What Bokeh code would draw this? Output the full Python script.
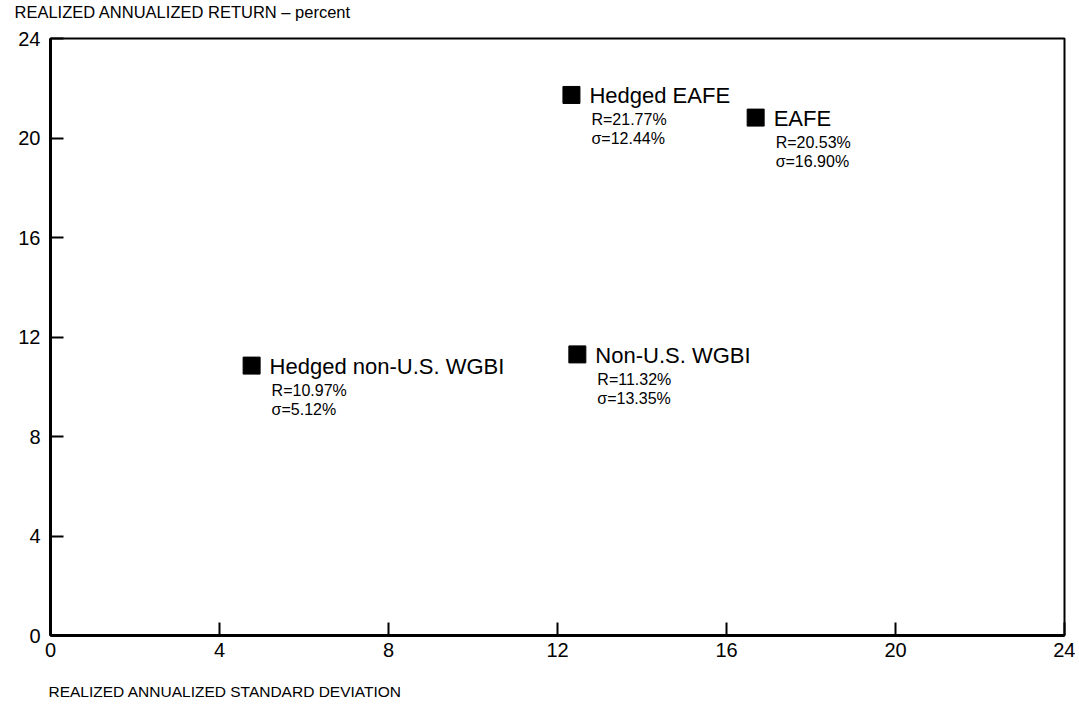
from bokeh.plotting import figure
from bokeh.models import ColumnDataSource, Range1d, FixedTicker, Title
from bokeh.core.properties import value
from bokeh.embed import file_html
from bokeh.resources import INLINE

# ---- data ----
names = ["Hedged EAFE", "EAFE", "Hedged non-U.S. WGBI", "Non-U.S. WGBI"]
std_dev = [12.33, 16.69, 4.76, 12.47]        # marker x positions as drawn
ret = [21.73, 20.82, 10.85, 11.30]           # marker y positions as drawn
r_text = ["R=21.77%", "R=20.53%", "R=10.97%", "R=11.32%"]
s_text = ["\u03c3=12.44%", "\u03c3=16.90%", "\u03c3=5.12%", "\u03c3=13.35%"]
ticks = [0, 4, 8, 12, 16, 20, 24]
y_title = "REALIZED ANNUALIZED RETURN \u2013 percent"
x_title = "REALIZED ANNUALIZED STANDARD DEVIATION"

FONT = "Liberation Sans"

src = ColumnDataSource(dict(x=std_dev, y=ret, name=names, r=r_text, s=s_text))

p = figure(width=1075, height=704, output_backend="svg", toolbar_location=None,
           x_range=Range1d(0, 24), y_range=Range1d(0, 24),
           min_border_left=50, min_border_top=38, min_border_right=11,
           min_border_bottom=69)
p.background_fill_color = "white"
p.border_fill_color = "white"
p.grid.visible = False
p.outline_line_color = "black"
p.outline_line_width = 2

for ax in (p.xaxis[0], p.yaxis[0]):
    ax.ticker = FixedTicker(ticks=ticks)
    ax.axis_line_width = 3
    ax.axis_line_color = "black"
    ax.major_tick_in = 13
    ax.major_tick_out = 0
    ax.major_tick_line_width = 2
    ax.major_tick_line_color = "black"
    ax.minor_tick_line_color = None
    ax.major_label_text_font = FONT
    ax.major_label_text_font_size = "20px"
    ax.major_label_text_color = "black"
p.yaxis.major_label_standoff = 10
p.xaxis.major_label_standoff = 7

p.scatter("x", "y", source=src, marker="square", size=17, color="black")

p.text("x", "y", text="name", source=src, x_offset=18, y_offset=1,
       text_baseline="middle", text_font=value(FONT), text_font_size="22px",
       text_color="black")
p.text("x", "y", text="r", source=src, x_offset=20, y_offset=25,
       text_baseline="middle", text_font=value(FONT), text_font_size="16px",
       text_color="black")
p.text("x", "y", text="s", source=src, x_offset=20, y_offset=44,
       text_baseline="middle", text_font=value(FONT), text_font_size="16px",
       text_color="black")

# titles: an extra blank line pushes each text away from the frame
top_title = Title(text=y_title + "\n ", align="left", offset=-36, text_font=FONT,
                  text_font_size="16.5px", text_font_style="normal",
                  text_color="black", standoff=0, text_line_height=1.0)
p.add_layout(top_title, "above")
bottom_title = Title(text=" \n" + x_title, align="left", offset=-2, text_font=FONT,
                     text_font_size="15.5px", text_font_style="normal",
                     text_color="black", standoff=5, text_line_height=1.1)
p.add_layout(bottom_title, "below")

open("out.html", "w").write(file_html(p, INLINE))
